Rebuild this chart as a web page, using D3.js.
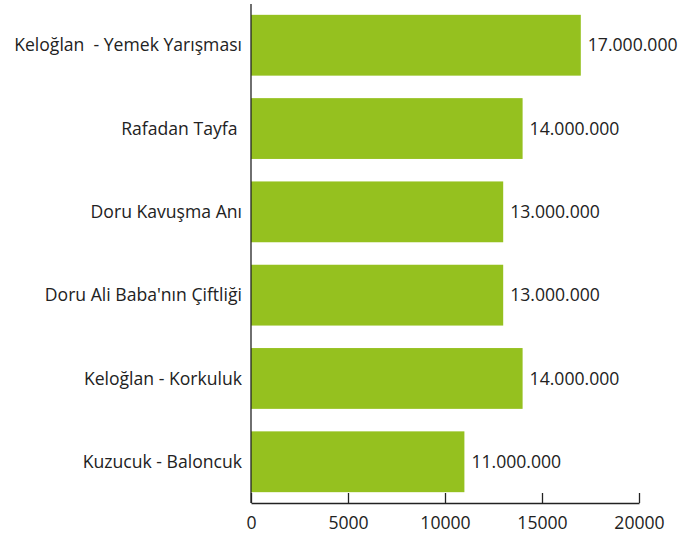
<!DOCTYPE html>
<html>
<head>
<meta charset="utf-8">
<script src="https://cdn.jsdelivr.net/npm/d3@7"></script>
<style>
  body { margin: 0; background: #fff; }
  text { font-family: "Open Sans", sans-serif; fill: #222; }
</style>
</head>
<body>
<script>
var categories = ["Keloğlan  - Yemek Yarışması", "Rafadan Tayfa ", "Doru Kavuşma Anı", "Doru Ali Baba'nın Çiftliği", "Keloğlan - Korkuluk", "Kuzucuk - Baloncuk"];
var values = [17000, 14000, 13000, 13000, 14000, 11000];
var valueLabels = ["17.000.000", "14.000.000", "13.000.000", "13.000.000", "14.000.000", "11.000.000"];
var tickValues = [0, 5000, 10000, 15000, 20000];

var width = 692, height = 534;
var fontSize = 17.6;
var svg = d3.select("body").append("svg").attr("width", width).attr("height", height);

var x = d3.scaleLinear().domain([0, 20000]).range([251, 639]);
var y = d3.scaleBand().domain(categories).range([4, 503]).paddingInner(0.27).paddingOuter(0.13);

var data = categories.map(function (c, i) {
    return { name: c, value: values[i], label: valueLabels[i] };
});

svg.append("g")
   .selectAll("rect")
   .data(data)
   .enter().append("rect")
   .attr("x", x(0))
   .attr("y", function (d) { return y(d.name); })
   .attr("width", function (d) { return x(d.value) - x(0); })
   .attr("height", y.bandwidth())
   .attr("fill", "#95c11f");

svg.append("g")
   .selectAll("text")
   .data(data)
   .enter().append("text")
   .attr("x", function (d) { return x(d.value) + 7; })
   .attr("y", function (d) { return y(d.name) + y.bandwidth() / 2; })
   .attr("dy", "0.35em")
   .attr("font-size", fontSize)
   .text(function (d) { return d.label; });

// category labels
svg.append("g")
   .selectAll("text")
   .data(data)
   .enter().append("text")
   .attr("x", 242)
   .attr("y", function (d) { return y(d.name) + y.bandwidth() / 2; })
   .attr("dy", "0.35em")
   .attr("text-anchor", "end")
   .attr("font-size", fontSize)
   .style("white-space", "pre")
   .text(function (d) { return d.name; });

// left axis line
svg.append("line")
   .attr("x1", x(0)).attr("x2", x(0))
   .attr("y1", 4).attr("y2", 503)
   .attr("stroke", "#222").attr("stroke-width", 1.3);

// bottom axis, ticks pointing up
var xAxis = d3.axisBottom(x).tickValues(tickValues).tickSizeInner(-10).tickSizeOuter(0).tickPadding(14).tickFormat(d3.format("d"));
var gx = svg.append("g").attr("transform", "translate(0,503)").call(xAxis);
gx.select(".domain").attr("stroke", "#222").attr("stroke-width", 1.3);
gx.selectAll(".tick line").attr("stroke", "#222").attr("stroke-width", 1.3);
gx.selectAll(".tick text").attr("font-size", fontSize).attr("font-family", "Open Sans, sans-serif").attr("fill", "#222");
</script>
</body>
</html>
